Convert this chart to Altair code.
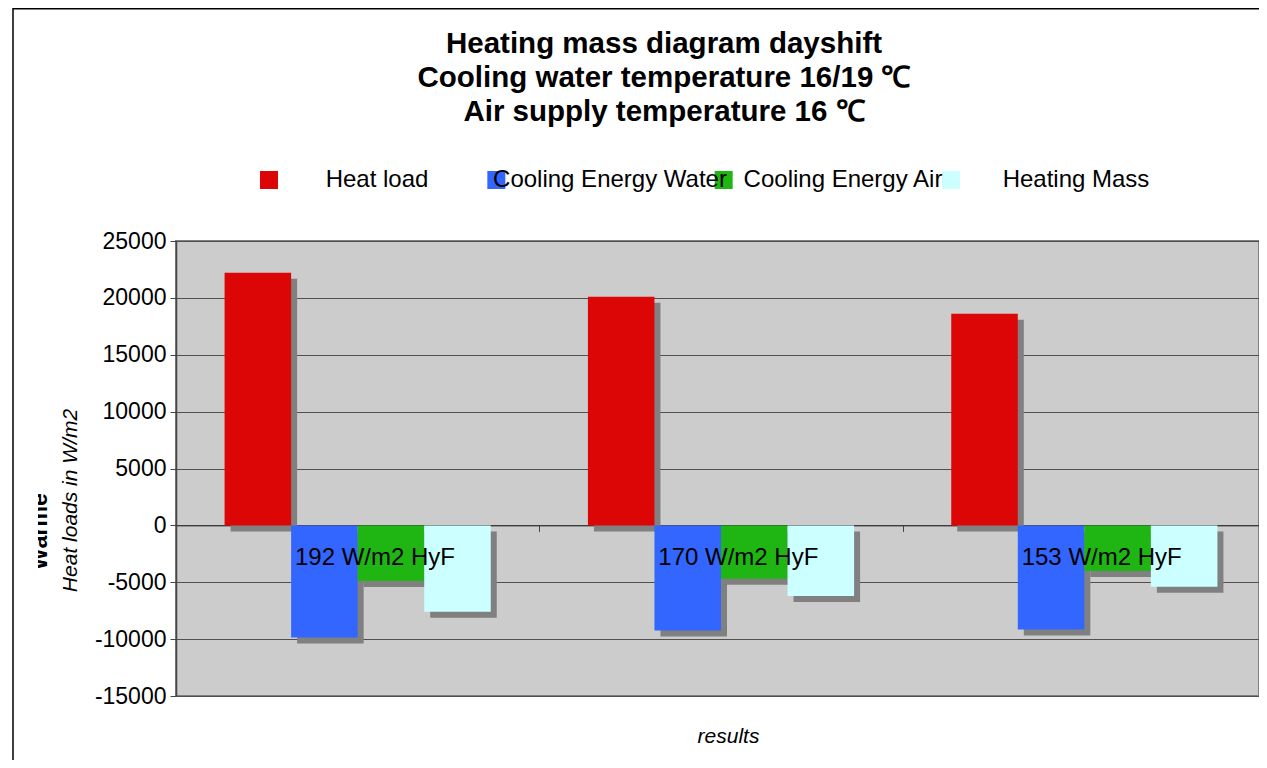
import altair as alt
import pandas as pd

# ---- data ----
groups = ["192 W/m2 HyF", "170 W/m2 HyF", "153 W/m2 HyF"]
series = ["Heat load", "Cooling Energy Water", "Cooling Energy Air", "Heating Mass"]
heat_load = [22200, 20100, 18600]
cooling_water = [-9850, -9250, -9150]
cooling_air = [-4900, -4700, -4000]
heating_mass = [-7600, -6200, -5400]
colors = ["#DD0606", "#3366FF", "#1FB614", "#CCFFFF"]
y_ticks = [-15000, -10000, -5000, 0, 5000, 10000, 15000, 20000, 25000]
title_lines = [
    "Heating mass diagram dayshift",
    "Cooling water temperature 16/19 \u2103",
    "Air supply temperature 16 \u2103",
]
hidden_title = "W\u00e4rme"

rows = []
for s, vals in zip(series, [heat_load, cooling_water, cooling_air, heating_mass]):
    for g, v in zip(groups, vals):
        rows.append({"group": g, "series": s, "value": v})
df = pd.DataFrame(rows)
lab_df = pd.DataFrame({"group": groups})
leg_df = pd.DataFrame({"series": series})
one = pd.DataFrame({"a": [0]})

FONT = "Liberation Sans"
W, H = 1083, 455          # visible plot area (page is 1267 wide)
XR = 1090                 # full category axis length (extends to the page edge)
band = XR / len(groups)
bar_pad = 0.73
shadow = 6
zero_pos = H * y_ticks[-1] / (y_ticks[-1] - y_ticks[0])

yscale = alt.Scale(domain=[y_ticks[0], y_ticks[-1]], nice=False)
xscale = alt.Scale(domain=groups, range=[0, XR], paddingInner=0, paddingOuter=0)
cscale = alt.Scale(domain=series, range=colors)

y_axis = alt.Axis(
    values=y_ticks, labelExpr="'' + datum.value", title="Heat loads in W/m2",
    titleFont=FONT, titleFontSize=21, titleFontStyle="italic", titleFontWeight="normal",
    titleColor="black", titleAngle=270, titleX=-106, titleY=259, titleAlign="center",
    titleBaseline="middle", labelFont=FONT, labelFontSize=23, labelColor="black",
    labelPadding=4, tickSize=6, tickColor="#444", domainColor="#444", domainWidth=1.5,
    grid=True, gridColor="#505050", gridWidth=1,
)

frame = alt.Chart(one).mark_rect(
    fill="transparent", stroke="black", strokeWidth=1.5
).encode(
    x=alt.value(-163), x2=alt.value(W + 40), y=alt.value(-232.2), y2=alt.value(H + 90)
)

# partly hidden bold axis title behind the real one (as in the original)
hidden = alt.Chart(one).mark_text(
    font=FONT, fontSize=23, fontWeight="bold", color="black", angle=270,
    align="left", baseline="alphabetic",
).encode(x=alt.value(-129), y=alt.value(329), text=alt.value(hidden_title))

cover = alt.Chart(one).mark_rect(color="white").encode(
    x=alt.value(-156), x2=alt.value(-138), y=alt.value(235), y2=alt.value(340)
)

title = alt.Chart(one).mark_text(
    font=FONT, fontSize=29.5, fontWeight="bold", color="black", align="center",
    baseline="top", lineHeight=34,
).encode(
    x=alt.value(488), y=alt.value(-211), text=alt.value(title_lines)
)

shadows = alt.Chart(df).mark_bar(color="#808080", yOffset=shadow, y2Offset=shadow).encode(
    x=alt.X("group:N", scale=xscale, axis=None),
    xOffset=alt.XOffset(
        "series:N",
        scale=alt.Scale(domain=series, range=[shadow, band + shadow], paddingInner=0, paddingOuter=bar_pad),
    ),
    y=alt.Y("value:Q", scale=yscale, axis=y_axis),
)

bars = alt.Chart(df).mark_bar().encode(
    x=alt.X(
        "group:N",
        scale=xscale,
        axis=alt.Axis(
            title="results", labels=False, ticks=True, tickBand="extent", tickSize=6,
            tickColor="#444", domain=True, domainColor="#333", domainWidth=1, grid=False,
            offset=-(H - zero_pos), titleFont=FONT, titleFontSize=21, titleFontStyle="italic",
            titleFontWeight="normal", titleColor="black", titleX=552, titleAlign="center",
            titleY=211, titleBaseline="middle",
        ),
    ),
    xOffset=alt.XOffset(
        "series:N",
        scale=alt.Scale(domain=series, range=[0, band], paddingInner=0, paddingOuter=bar_pad),
    ),
    y=alt.Y("value:Q", scale=yscale, axis=y_axis),
    color=alt.Color("series:N", scale=cscale, legend=None),
)

labels = alt.Chart(lab_df).mark_text(
    font=FONT, fontSize=24, color="black", align="left", baseline="middle",
    dx=119 - band / 2, dy=33,
).encode(
    x=alt.X("group:N", scale=xscale, axis=None),
    y=alt.Y("zero:Q", scale=yscale, axis=y_axis),
    text="group:N",
).transform_calculate(zero="0")

leg_sw = alt.Chart(leg_df).mark_square(size=324, opacity=1).encode(
    x=alt.X("series:N", scale=alt.Scale(type="point", domain=series, range=[93, 775], padding=0), axis=None),
    y=alt.value(-61),
    color=alt.Color("series:N", scale=cscale, legend=None),
)

leg_tx = alt.Chart(leg_df).mark_text(
    font=FONT, fontSize=24, color="black", align="center", baseline="middle"
).encode(
    x=alt.X("series:N", scale=alt.Scale(type="point", domain=series, range=[201, 900], padding=0), axis=None),
    y=alt.value(-61),
    text="series:N",
)

chart = (
    alt.layer(frame, hidden, cover, title, shadows, bars, labels, leg_sw, leg_tx)
    .resolve_scale(x="independent", xOffset="independent")
    .properties(
        width=W,
        height=H,
        padding={"left": 168, "top": 233, "right": 0, "bottom": 64},
        autosize=alt.AutoSizeParams(type="none"),
    )
    .configure_view(fill="#CCCCCC", stroke="#808080", strokeWidth=2)
)

chart.save("out.html", embed_options={"renderer": "svg", "actions": False})
